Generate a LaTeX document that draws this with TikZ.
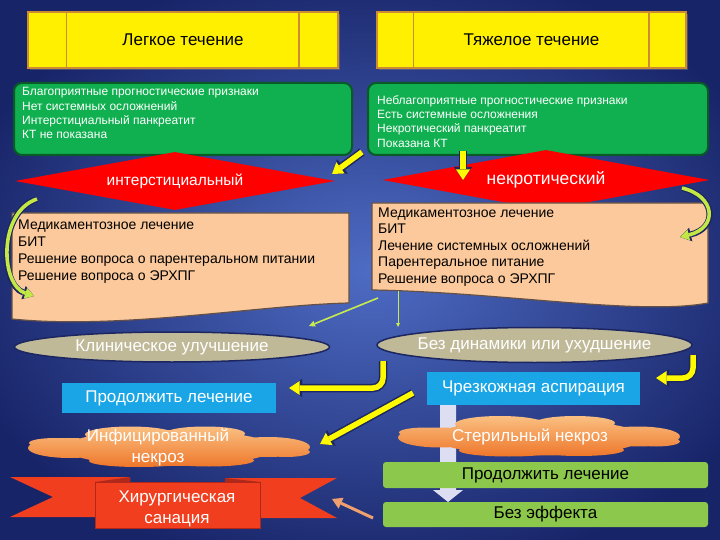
\documentclass[tikz,border=0pt]{standalone}
\usepackage{fontspec}
\setmainfont{Liberation Sans}
\usetikzlibrary{shapes.geometric,arrows.meta,shadows}
\definecolor{bgin}{RGB}{78,108,196}
\definecolor{bgout}{RGB}{24,36,104}
\definecolor{yfill}{RGB}{255,240,0}
\definecolor{yline}{RGB}{205,140,50}
\definecolor{gfill}{RGB}{16,176,80}
\definecolor{gline}{RGB}{10,90,40}
\definecolor{peach}{RGB}{251,201,155}
\definecolor{peachline}{RGB}{100,80,70}
\definecolor{tanfill}{RGB}{192,185,152}
\definecolor{cyanbox}{RGB}{26,166,230}
\definecolor{lgreen}{RGB}{140,200,75}
\definecolor{ribred}{RGB}{240,62,30}
\definecolor{ribdark}{RGB}{175,40,25}
\definecolor{cloudtop}{RGB}{250,192,130}
\definecolor{cloudbot}{RGB}{238,118,42}
\definecolor{navyline}{RGB}{28,38,96}
\definecolor{lav}{RGB}{222,222,242}
\definecolor{salmon}{RGB}{240,160,110}
\definecolor{ayellow}{RGB}{255,250,0}
\definecolor{thinyellow}{RGB}{200,235,80}
\definecolor{curvecol}{RGB}{195,232,70}
\newcommand\fbig{\fontsize{17}{21}\selectfont}
\newcommand\myblob{%
  \shade[top color=cloudtop, bottom color=cloudbot]
    (0,0.5) ellipse [x radius=105, y radius=18]
    (-99,0.5) ellipse [x radius=42, y radius=10]
    (99,-0.5) ellipse [x radius=42, y radius=10]
    (-114,-4.5) ellipse [x radius=26, y radius=5]
    (117,4.5) ellipse [x radius=24, y radius=5]
    (-39,-13) ellipse [x radius=45, y radius=8]
    (36,-14) ellipse [x radius=40, y radius=7]
    (-30,13.5) ellipse [x radius=50, y radius=6]
    (40,13) ellipse [x radius=45, y radius=6];}
\begin{document}
\begin{tikzpicture}[x=1pt,y=-1pt,
  ybox/.style={draw=yline, line width=1.5pt, fill=yfill, font=\fbig, text=black, inner sep=0pt,
    drop shadow={opacity=0.45, shadow xshift=2pt, shadow yshift=-2pt}},
  gbox/.style={draw=gline, line width=2pt, fill=gfill, rounded corners=8pt, inner sep=0pt},
  gtext/.style={text=white, font=\fontsize{12}{14.3}\selectfont, align=left, inner sep=0pt, anchor=north west},
  rdiam/.style={diamond, fill=red, inner sep=0pt, text=white},
  peachbox/.style={fill=peach, draw=peachline, line width=1.2pt},
  ptext/.style={text=black, align=left, inner sep=0pt, anchor=north west},
  oval/.style={ellipse, fill=tanfill, draw=navyline, line width=1.5pt, inner sep=0pt},
  bigtext/.style={text=white, font=\fbig, inner sep=0pt, align=center},
  cbox/.style={fill=cyanbox, inner sep=0pt, text=white, font=\fbig},
  blobnode/.style={inner sep=0pt, minimum width=282pt, minimum height=40pt},
  lgbox/.style={fill=lgreen, rounded corners=3pt, inner sep=0pt, text=black, font=\fbig},
  yout/.style={draw=navyline, line width=8.5pt, -{Triangle[length=13pt,width=18pt,line width=0pt]}},
  yin/.style={draw=ayellow, line width=5.5pt, -{Triangle[length=10.5pt,width=14pt,line width=0pt]}},
  thinarrow/.style={draw=thinyellow, line width=1.6pt, -{Triangle[length=6pt,width=6pt,line width=0pt]}},
  curveout/.style={draw=navyline, line width=6pt, -{Triangle[length=11pt,width=14pt,line width=0pt]}},
  curvein/.style={draw=curvecol, line width=3.6pt, -{Triangle[length=9pt,width=11pt,line width=0pt]}},
]
\useasboundingbox (0,0) rectangle (720,540);
\shade[inner color=bgin, outer color=bgout] (-60,-40) rectangle (800,580);

% title boxes
\node[ybox, minimum width=310pt, minimum height=56pt] (light) at (183,40) {Легкое течение};
\draw[yline, line width=1.5pt] ([xshift=39pt]light.north west) -- ([xshift=39pt]light.south west);
\draw[yline, line width=1.5pt] ([xshift=-40pt]light.north east) -- ([xshift=-40pt]light.south east);
\node[ybox, minimum width=309pt, minimum height=56pt] (heavy) at (531.5,40) {Тяжелое течение};
\draw[yline, line width=1.5pt] ([xshift=37pt]heavy.north west) -- ([xshift=37pt]heavy.south west);
\draw[yline, line width=1.5pt] ([xshift=-38pt]heavy.north east) -- ([xshift=-38pt]heavy.south east);

% green boxes
\node[gbox, minimum width=338pt, minimum height=72pt] (fav) at (183,119) {};
\node[gtext] (favtext) at (22,87.4) {Благоприятные прогностические признаки\\Нет системных осложнений\\Интерстициальный панкреатит\\КТ не показана};
\node[gbox, minimum width=340pt, minimum height=72pt] (unfav) at (538,119) {};
\node[gtext] (unfavtext) at (377,95.4) {Неблагоприятные прогностические признаки\\Есть системные осложнения\\Некротический панкреатит\\Показана КТ};

% diamonds
\node[rdiam, minimum width=320pt, minimum height=58pt, aspect=5.5, font=\fontsize{15.5}{18}\selectfont] (interst) at (175,181) {интерстициальный};
\node[rdiam, minimum width=327pt, minimum height=60pt, aspect=5.5, font=\fontsize{17.5}{20}\selectfont] (necro) at (546,180) {некротический};

% arrows from green boxes
\coordinate (a1s) at (362,152);
\coordinate (a1e) at (332,174);
\draw[yout] (a1s) -- (a1e);
\draw[yin] (a1s) -- (a1e);
\coordinate (a2s) at (463,151);
\coordinate (a2e) at (463,180);
\draw[yout] (a2s) -- (a2e);
\draw[yin] (a2s) -- (a2e);

% peach boxes
\draw[peachbox] (12,213) -- (349,213) -- (349,303) .. controls (260,305) and (120,330) .. (12,319) -- cycle;
\node[ptext, font=\fontsize{14}{17}\selectfont] (ltreat) at (18,219.5) {Медикаментозное лечение\\БИТ\\Решение вопроса о парентеральном питании\\Решение вопроса о ЭРХПГ};
\draw[peachbox] (372,203) -- (708,203) -- (708,303) .. controls (640,316) and (500,292) .. (372,290) -- cycle;
\node[ptext, font=\fontsize{14}{16.5}\selectfont] (rtreat) at (378,207.5) {Медикаментозное лечение\\БИТ\\Лечение системных осложнений\\Парентеральное питание\\Решение вопроса о ЭРХПГ};

% curved arrows
\coordinate (c1s) at (37,199);
\coordinate (c1e) at (34,296);
\draw[curveout] (c1s) .. controls (-2,212) and (0,285) .. (c1e);
\draw[curvein] (c1s) .. controls (-2,212) and (0,285) .. (c1e);
\coordinate (c2s) at (682,188);
\coordinate (c2e) at (680,237);
\draw[curveout] (c2s) .. controls (716,196) and (718,228) .. (c2e);
\draw[curvein] (c2s) .. controls (716,196) and (718,228) .. (c2e);

% ovals
\node[oval, minimum width=315pt, minimum height=30pt] (clin) at (172,347) {};
\node[bigtext] (clintext) at (clin) {Клиническое улучшение};
\node[oval, minimum width=315pt, minimum height=35pt] (bez) at (534.5,345) {};
\node[bigtext] (beztext) at (bez) {Без динамики или ухудшение};

% thin arrows
\coordinate (t1s) at (378,298);
\coordinate (t1e) at (309,326);
\draw[thinarrow] (t1s) -- (t1e);
\coordinate (t2s) at (398,291);
\coordinate (t2e) at (398,327);
\draw[draw=thinyellow, line width=0.9pt, -{Triangle[length=4pt,width=4pt,line width=0pt]}] (t2s) -- (t2e);

% lavender block arrow (behind)
\fill[lav] (440,404) -- (456,404) -- (456,490) -- (463,490) -- (448,502) -- (433,490) -- (440,490) -- cycle;

% cyan boxes
\node[cbox, minimum width=214pt, minimum height=30pt] (cont1) at (169,398) {Продолжить лечение};
\node[cbox, minimum width=213pt, minimum height=33pt] (asp) at (533.5,388.5) {Чрезкожная аспирация};

% L arrows
\coordinate (a3s) at (383,361);
\coordinate (a3e) at (289,388);
\draw[yout, rounded corners=10pt] (a3s) |- (a3e);
\draw[yin, rounded corners=10pt] (a3s) |- (a3e);
\coordinate (a4s) at (693,355);
\coordinate (a4e) at (656,378);
\draw[yout, rounded corners=10pt] (a4s) |- (a4e);
\draw[yin, rounded corners=10pt] (a4s) |- (a4e);
\coordinate (a5s) at (413,393);
\coordinate (a5e) at (320,444);
\draw[yout] (a5s) -- (a5e);
\draw[yin] (a5s) -- (a5e);

% clouds
\begin{scope}[shift={(169,447.5)}]\myblob\end{scope}
\node[blobnode] (infect) at (169,447.5) {};
\node[bigtext] (infecttext) at (158,447.5) {Инфицированный\\некроз};
\begin{scope}[shift={(539,437)}]\myblob\end{scope}
\node[blobnode] (steril) at (539,437) {};
\node[bigtext] (steriltext) at (530,437) {Стерильный некроз};

% green bars
\node[lgbox, minimum width=325pt, minimum height=26pt] (cont2) at (545.5,475) {Продолжить лечение};
\node[lgbox, minimum width=325pt, minimum height=25pt] (noeff) at (545.5,514.5) {Без эффекта};

% ribbon
\fill[ribred] (10,477) -- (130,477) -- (130,517) -- (10,517) -- (53,497) -- cycle;
\fill[ribred] (225,478) -- (337,478) -- (300,498) -- (337,518) -- (225,518) -- cycle;
\fill[ribdark] (95,482) -- (130,477) -- (130,482) -- cycle;
\fill[ribdark] (260,482) -- (225,478) -- (225,482) -- cycle;
\node[fill=ribred, draw=ribdark, line width=1pt, minimum width=165pt, minimum height=46pt, inner sep=0pt] (surg) at (177.5,505) {};
\node[bigtext] (surgtext) at (177,509) {Хирургическая\\санация};

% orange arrow
\coordinate (o1s) at (373,518);
\coordinate (o1e) at (332,499);
\draw[draw=salmon, line width=3pt, -{Triangle[length=10pt,width=12pt,line width=0pt]}] (o1s) -- (o1e);
\end{tikzpicture}
\end{document}
